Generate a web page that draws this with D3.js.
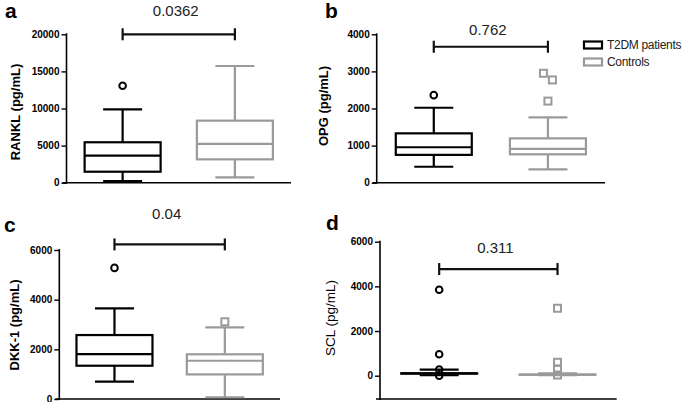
<!DOCTYPE html>
<html><head><meta charset="utf-8">
<script src="https://cdn.jsdelivr.net/npm/d3@7"></script>
<style>
body{margin:0;background:#fff;}
svg{display:block;font-family:Arial,"Liberation Sans",sans-serif;}
</style></head>
<body><svg id="c" width="685" height="402"></svg>
<script>
// ---- data ----
const groups = ["T2DM patients", "Controls"];
// [lower whisker, Q1, median, Q3, upper whisker]
const ranklT2DM = [200, 1480, 3640, 5450, 9890];
const ranklT2DMOut = [13070];
const ranklCtrl = [730, 3150, 5220, 8360, 15730];
const ranklCtrlOut = [];
const opgT2DM = [430, 750, 955, 1330, 2020];
const opgT2DMOut = [2360];
const opgCtrl = [360, 765, 910, 1195, 1760];
const opgCtrlOut = [2950, 2770, 2200];
const dkkT2DM = [700, 1340, 1810, 2575, 3650];
const dkkT2DMOut = [5280];
const dkkCtrl = [70, 990, 1540, 1800, 2885];
const dkkCtrlOut = [3110];
const sclT2DM = [20, 95, 100, 105, 270];
const sclT2DMOut = [3850, 960, 280, 0];
const sclCtrl = [20, 42, 45, 48, 110];
const sclCtrlOut = [3020, 600, 300, 30];
const ranklTicks = [0, 5000, 10000, 15000, 20000];
const opgTicks = [0, 1000, 2000, 3000, 4000];
const dkkTicks = [0, 2000, 4000, 6000];
const sclTicks = [0, 2000, 4000, 6000];
const yLabels = ["RANKL (pg/mL)", "OPG (pg/mL)", "DKK-1 (pg/mL)", "SCL (pg/mL)"];
const panelLetters = ["a", "b", "c", "d"];
const pValues = ["0.0362", "0.762", "0.04", "0.311"];
const barValues = [20000, 3665, 6225, 4775];

const colors = ["#000000", "#9a9a9a"];
const svg = d3.select("#c");

const panels = [
  {stats:[ranklT2DM, ranklCtrl], outs:[ranklT2DMOut, ranklCtrlOut], ticks:ranklTicks, domain:[0,20000],
   x0:66.5, x1:291, yb:182.7, yt:34.3, axisBottom:182.7, letter:[5,18], lab:[15,112], bold:true, pY:16, dodge:true},
  {stats:[opgT2DM, opgCtrl], outs:[opgT2DMOut, opgCtrlOut], ticks:opgTicks, domain:[0,4000],
   x0:376.7, x1:605, yb:182.7, yt:34.3, axisBottom:182.7, letter:[325,18], lab:[323,106], bold:true, pY:35, dodge:true},
  {stats:[dkkT2DM, dkkCtrl], outs:[dkkT2DMOut, dkkCtrlOut], ticks:dkkTicks, domain:[0,6000],
   x0:59.3, x1:280, yb:399, yt:250, axisBottom:399, letter:[4,232], lab:[14,325], bold:true, pY:219, dodge:true},
  {stats:[sclT2DM, sclCtrl], outs:[sclT2DMOut, sclCtrlOut], ticks:sclTicks, domain:[0,6000],
   x0:380, x1:616.7, yb:375.7, yt:241.7, axisBottom:399, letter:[326,230], lab:[330,318], bold:false, pY:253, dodge:false}
];

panels.forEach((p, i) => {
  const g = svg.append("g");
  const y = d3.scaleLinear().domain(p.domain).range([p.yb, p.yt]);
  const x = d3.scalePoint().domain(groups).range([p.x0, p.x1]).padding(0.5);
  const boxW = 76, capW = 39;

  // y axis
  const ya = d3.axisLeft(y).tickValues(p.ticks).tickSize(5).tickPadding(2).tickFormat(d3.format("d"));
  const yg = g.append("g").attr("transform", `translate(${p.x0},0)`).call(ya);
  yg.select(".domain").remove();
  yg.append("line").attr("x1",0).attr("x2",0).attr("y1",p.yt-1).attr("y2",p.axisBottom+1)
    .attr("stroke","#000").attr("stroke-width",1.6);
  yg.selectAll(".tick line").attr("stroke","#000").attr("stroke-width",1.4);
  yg.selectAll(".tick text").attr("fill","#000").style("font-size","10px").style("font-weight","bold")
    .style("font-family","Arial, 'Liberation Sans', sans-serif");
  // x axis line
  g.append("line").attr("x1",p.x0-4).attr("x2",p.x1).attr("y1",p.axisBottom).attr("y2",p.axisBottom)
    .attr("stroke","#000").attr("stroke-width",1.6);

  // boxes
  groups.forEach((grp, k) => {
    const s = p.stats[k], cx = x(grp), col = colors[k];
    const bg = g.append("g").attr("stroke", col).attr("stroke-width", 2.2).attr("fill","none");
    bg.append("line").attr("x1",cx).attr("x2",cx).attr("y1",y(s[3])).attr("y2",y(s[4]));
    bg.append("line").attr("x1",cx).attr("x2",cx).attr("y1",y(s[1])).attr("y2",y(s[0]));
    bg.append("line").attr("x1",cx-capW/2).attr("x2",cx+capW/2).attr("y1",y(s[4])).attr("y2",y(s[4]));
    bg.append("line").attr("x1",cx-capW/2).attr("x2",cx+capW/2).attr("y1",y(s[0])).attr("y2",y(s[0]));
    bg.append("rect").attr("x",cx-boxW/2).attr("width",boxW).attr("y",y(s[3])).attr("height",Math.max(0.1,y(s[1])-y(s[3])));
    bg.append("line").attr("x1",cx-boxW/2).attr("x2",cx+boxW/2).attr("y1",y(s[2])).attr("y2",y(s[2]));

    // outliers, with a simple dodge for overlapping markers
    const outs = p.outs[k].slice().sort((a,b)=>b-a);
    let prevY = -1e9;
    outs.forEach(v => {
      const py = y(v);
      let dx = 0;
      if (p.dodge) {
        if (Math.abs(py - prevY) < 8) dx = 4.5;
        else if (outs.some(w => w !== v && Math.abs(y(w) - py) < 8 && y(w) > py)) dx = -4.5;
      }
      prevY = py;
      if (k === 0) {
        g.append("circle").attr("cx",cx+dx).attr("cy",py).attr("r",3.3)
          .attr("fill","none").attr("stroke",col).attr("stroke-width",2);
      } else {
        g.append("rect").attr("x",cx+dx-3.5).attr("y",py-3.5).attr("width",7).attr("height",7)
          .attr("fill","none").attr("stroke",col).attr("stroke-width",2);
      }
    });
  });

  // significance bar
  const by = y(barValues[i]);
  const bx1 = x(groups[0]), bx2 = x(groups[1]);
  const sb = g.append("g").attr("stroke","#111").attr("stroke-width",2.2);
  sb.append("line").attr("x1",bx1).attr("x2",bx2).attr("y1",by).attr("y2",by);
  sb.append("line").attr("x1",bx1).attr("x2",bx1).attr("y1",by-6).attr("y2",by+6);
  sb.append("line").attr("x1",bx2).attr("x2",bx2).attr("y1",by-6).attr("y2",by+6);
  g.append("text").attr("x",(bx1+bx2)/2 - 3).attr("y",p.pY).attr("text-anchor","middle")
    .style("font-size","15px").attr("fill","#222").text(pValues[i]);

  // panel letter
  g.append("text").attr("x",p.letter[0]).attr("y",p.letter[1])
    .style("font-size","21px").style("font-weight","bold").text(panelLetters[i]);
  // y label
  g.append("text").attr("transform",`translate(${p.lab[0]},${p.lab[1]}) rotate(-90)`)
    .attr("text-anchor","middle").attr("dy","0.35em")
    .style("font-size", p.bold ? "13px" : "13.5px").style("font-weight", p.bold ? "bold" : "normal")
    .text(yLabels[i]);
});

// legend
const leg = svg.append("g");
groups.forEach((grp, k) => {
  const ly = 45 + k * 17;
  leg.append("rect").attr("x",584).attr("y",ly-3.5).attr("width",18).attr("height",7)
    .attr("fill","none").attr("stroke",colors[k]).attr("stroke-width",2.2);
  leg.append("text").attr("x",607).attr("y",ly).attr("dy","0.35em")
    .style("font-size","12px").attr("fill","#222").style("letter-spacing","-0.3px").text(grp);
});
</script></body></html>
